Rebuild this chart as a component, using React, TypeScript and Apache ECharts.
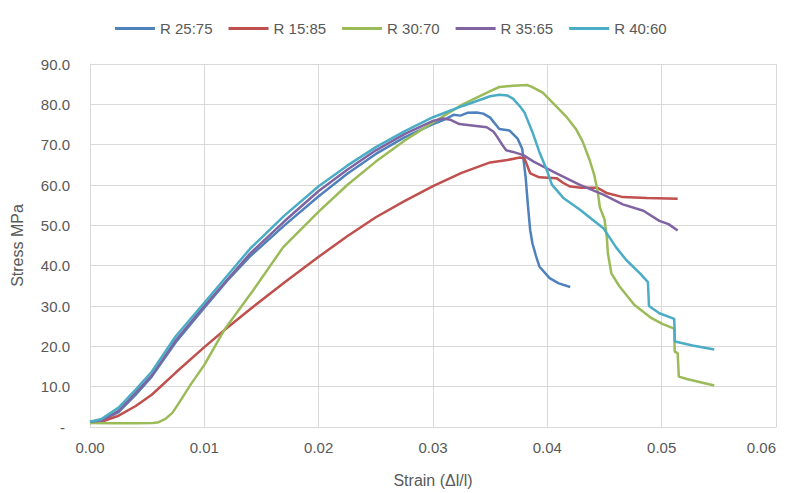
import React, { useEffect, useRef } from "react";
import * as echarts from "echarts";

const seriesNames = ["R 25:75", "R 15:85", "R 30:70", "R 35:65", "R 40:60"];
const seriesColors = ["#4F81BD", "#C0504D", "#9BBB59", "#8064A2", "#4BACC6"];

const xTicks = { min: 0, max: 0.06, interval: 0.01 };
const yTicks = { min: 0, max: 90, interval: 10 };

const r2575: number[][] = [
  [0, 1.2], [0.001, 1.6], [0.0025, 3.7], [0.004, 8], [0.0054, 12.5], [0.0075, 21], [0.01, 29.6],
  [0.012, 36.3], [0.014, 42.3], [0.017, 50], [0.02, 57.2], [0.0225, 62.8], [0.025, 67.7],
  [0.0275, 71.8], [0.03, 75.1], [0.031, 76.2], [0.0318, 77.4], [0.0324, 77.2], [0.033, 77.9],
  [0.0338, 78.0], [0.0344, 77.7], [0.035, 76.7], [0.0358, 73.9], [0.0367, 73.5], [0.0374, 71.5],
  [0.0378, 69], [0.0381, 62], [0.0383, 55], [0.0385, 48.8], [0.0387, 45.5], [0.039, 42.5],
  [0.0393, 39.8], [0.0402, 36.9], [0.041, 35.6], [0.042, 34.7],
];

const r1585: number[][] = [
  [0, 1.0], [0.001, 1.3], [0.0025, 2.8], [0.004, 5.2], [0.0054, 8], [0.0075, 13.5], [0.01, 19.8],
  [0.012, 24.6], [0.014, 29.2], [0.017, 35.8], [0.02, 42.2], [0.0225, 47.3], [0.025, 52],
  [0.0275, 56], [0.03, 59.7], [0.0325, 63], [0.0344, 65], [0.035, 65.6], [0.0365, 66.2],
  [0.0376, 66.8], [0.038, 66.6], [0.0385, 62.9], [0.0393, 61.9], [0.0408, 61.7], [0.0414, 60.5],
  [0.042, 59.6], [0.043, 59.3], [0.0444, 59.3], [0.0452, 58], [0.0466, 57], [0.0487, 56.8],
  [0.0514, 56.6],
];

const r3070: number[][] = [
  [0, 1.0], [0.002, 0.9], [0.004, 0.9], [0.0055, 1.0], [0.006, 1.2], [0.0066, 2], [0.0072, 3.5],
  [0.0077, 5.6], [0.0088, 10.5], [0.01, 15.4], [0.0118, 24.3], [0.0141, 33.2], [0.0169, 44.6],
  [0.02, 53.4], [0.0225, 60], [0.025, 65.8], [0.0275, 71], [0.03, 75.5], [0.0326, 80],
  [0.035, 83.3], [0.0358, 84.3], [0.037, 84.6], [0.0382, 84.8], [0.0386, 84.4], [0.0396, 82.9],
  [0.0405, 80.3], [0.0417, 76.8], [0.0425, 73.9], [0.0431, 70.7], [0.0437, 66.2], [0.0441, 62.5],
  [0.0444, 58.5], [0.0446, 54.4], [0.045, 51.5], [0.0452, 47.1], [0.0453, 43], [0.0456, 38.1],
  [0.0463, 34.9], [0.0476, 30.3], [0.049, 27.2], [0.0501, 25.5], [0.0511, 24.4], [0.05114, 18.7],
  [0.0514, 18.3], [0.0515, 12.5], [0.0522, 11.9], [0.0546, 10.3],
];

const r3565: number[][] = [
  [0, 1.3], [0.001, 1.6], [0.0025, 4], [0.004, 8.5], [0.0054, 12.8], [0.0075, 21.5], [0.01, 30],
  [0.012, 36.5], [0.014, 43], [0.017, 51], [0.02, 58.5], [0.0225, 63.8], [0.025, 68.6],
  [0.0275, 72.6], [0.03, 75.9], [0.0309, 76.5], [0.0315, 76.2], [0.0323, 75.1], [0.0347, 74.3],
  [0.0353, 73.2], [0.0356, 72], [0.0361, 69.8], [0.0364, 68.6], [0.037, 68.2], [0.0379, 67.4],
  [0.0388, 65.8], [0.0408, 62.9], [0.0428, 60.1], [0.0449, 57.6], [0.0466, 55.2], [0.0484, 53.6],
  [0.0498, 51.1], [0.0506, 50.3], [0.0514, 48.7],
];

const r4060: number[][] = [
  [0, 1.3], [0.001, 2], [0.0025, 4.8], [0.004, 9.3], [0.0054, 13.7], [0.0075, 22.5], [0.01, 30.8],
  [0.012, 37.5], [0.014, 44.2], [0.017, 52.4], [0.02, 59.7], [0.0225, 64.8], [0.025, 69.4],
  [0.0275, 73.3], [0.03, 76.8], [0.0326, 79.6], [0.035, 82], [0.0358, 82.4], [0.0365, 82.2],
  [0.037, 81.4], [0.0376, 79.5], [0.038, 78], [0.0387, 73.1], [0.0393, 68.2], [0.0399, 64.1],
  [0.0404, 60.1], [0.0414, 56.8], [0.0428, 54], [0.0449, 49.3], [0.046, 44.6], [0.0469, 41.4],
  [0.0481, 38.1], [0.0488, 35.9], [0.04889, 30], [0.0498, 28.2], [0.0511, 26.8], [0.05116, 21.2],
  [0.0527, 20.2], [0.0546, 19.2],
];

const seriesData = [r2575, r1585, r3070, r3565, r4060];

const FONT = "'Liberation Sans', Arial, sans-serif";
const TEXT = "#595959";
const GRID = "#d9d9d9";

export default function App() {
  const ref = useRef<HTMLDivElement>(null);
  useEffect(() => {
    if (!ref.current) return;
    const chart = echarts.init(ref.current, null, { renderer: "svg" });
    chart.setOption({
      animation: false,
      backgroundColor: "#ffffff",
      textStyle: { fontFamily: FONT },
      legend: {
        left: 110,
        top: 16,
        icon: "rect",
        itemWidth: 40,
        itemHeight: 3,
        itemGap: 16,
        textStyle: { color: TEXT, fontSize: 15, fontFamily: FONT },
        data: seriesNames,
      },
      grid: { left: 90, right: 15, top: 64, bottom: 60, containLabel: false },
      xAxis: {
        type: "value",
        min: xTicks.min,
        max: xTicks.max,
        interval: xTicks.interval,
        name: "Strain (\u0394l/l)",
        nameLocation: "middle",
        nameGap: 45,
        nameTextStyle: { color: TEXT, fontSize: 16, fontFamily: FONT },
        axisLine: { show: true, lineStyle: { color: GRID, width: 1 } },
        axisTick: { show: false },
        axisLabel: {
          color: TEXT,
          fontSize: 15,
          margin: 13,
          alignMaxLabel: "right",
          formatter: (v: number) => v.toFixed(2),
        },
        splitLine: { show: true, lineStyle: { color: GRID, width: 1 } },
      },
      yAxis: {
        type: "value",
        min: yTicks.min,
        max: yTicks.max,
        interval: yTicks.interval,
        name: "Stress MPa",
        nameLocation: "middle",
        nameGap: 65,
        nameTextStyle: { color: TEXT, fontSize: 16, fontFamily: FONT },
        axisLine: { show: true, lineStyle: { color: GRID, width: 1 } },
        axisTick: { show: false },
        axisLabel: {
          color: TEXT,
          fontSize: 15,
          margin: 20,
          formatter: (v: number) => (v === 0 ? "{d|-}" : v.toFixed(1)),
          rich: { d: { color: TEXT, fontSize: 15, padding: [0, 5, 0, 0] } },
        },
        splitLine: { show: true, lineStyle: { color: GRID, width: 1 } },
      },
      series: seriesNames.map((name, i) => ({
        name,
        type: "line",
        data: seriesData[i],
        symbol: "none",
        showSymbol: false,
        smooth: false,
        lineStyle: { color: seriesColors[i], width: 2.5 },
        itemStyle: { color: seriesColors[i] },
        z: 2 + i,
      })),
    });
    return () => chart.dispose();
  }, []);
  return (
    <div
      ref={ref}
      style={{ position: "fixed", left: 0, top: 0, width: 791, height: 493 }}
    />
  );
}
